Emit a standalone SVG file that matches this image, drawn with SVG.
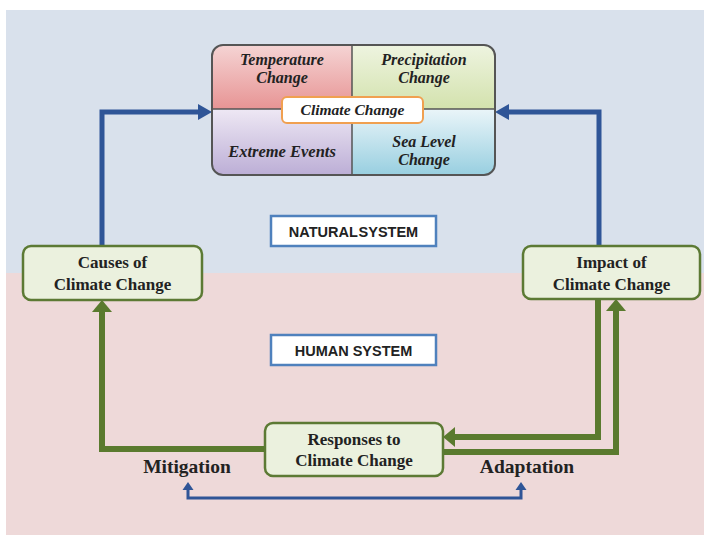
<svg xmlns="http://www.w3.org/2000/svg" width="704" height="535" viewBox="0 0 704 535">
<style>
.serif{font-family:"Liberation Serif","Times New Roman",serif;font-weight:bold;fill:#222;text-anchor:middle}
.it{font-style:italic}
.sans{font-family:"Liberation Sans",Arial,sans-serif;font-weight:bold;fill:#222;text-anchor:middle;font-size:14.5px}
.gbox{fill:#ebf1de;stroke:#5c7a34;stroke-width:2.5}
.sbox{fill:#fff;stroke:#4f81bd;stroke-width:2.5}
.garrow{fill:none;stroke:#5a7a2e;stroke-width:6;stroke-linejoin:miter}
.barrow{fill:none;stroke:#2f5597;stroke-width:5;stroke-linejoin:miter}
.bthin{fill:none;stroke:#2f5597;stroke-width:3;stroke-linejoin:miter}
</style>
<defs>
<marker id="gHead" markerUnits="userSpaceOnUse" markerWidth="14" markerHeight="22" refX="0" refY="10" orient="auto" overflow="visible"><path d="M0,0 L12,10 L0,20 Z" fill="#5a7a2e"/></marker>
<marker id="bHead" markerUnits="userSpaceOnUse" markerWidth="16" markerHeight="18" refX="0" refY="8" orient="auto" overflow="visible"><path d="M0,0 L14,8 L0,16 Z" fill="#2f5597"/></marker>
<marker id="sHead" markerUnits="userSpaceOnUse" markerWidth="10" markerHeight="12" refX="0" refY="5.5" orient="auto-start-reverse" overflow="visible"><path d="M0,0 L8,5.5 L0,11 Z" fill="#2f5597"/></marker>
<linearGradient id="gRed" x1="0" y1="0" x2="0" y2="1"><stop offset="0" stop-color="#f5d4d4"/><stop offset="1" stop-color="#e79494"/></linearGradient>
<linearGradient id="gGreen" x1="0" y1="0" x2="0" y2="1"><stop offset="0" stop-color="#eef4e0"/><stop offset="1" stop-color="#d3e2ad"/></linearGradient>
<linearGradient id="gPurple" x1="0" y1="0" x2="0" y2="1"><stop offset="0" stop-color="#eee8f4"/><stop offset="1" stop-color="#bcaed6"/></linearGradient>
<linearGradient id="gCyan" x1="0" y1="0" x2="0" y2="1"><stop offset="0" stop-color="#eaf5f9"/><stop offset="1" stop-color="#98cfe0"/></linearGradient>
<clipPath id="ccClip"><rect x="212" y="45" width="283" height="130" rx="11"/></clipPath>
</defs>
<rect x="0" y="0" width="704" height="535" fill="#fff"/>
<rect x="6" y="10" width="698" height="263" fill="#d9e1ec"/>
<rect x="6" y="273" width="698" height="262" fill="#eed9d9"/>

<g id="connectors">
<path class="barrow" d="M102,246 V112 H198" marker-end="url(#bHead)"/>
<path class="barrow" d="M599,246 V112 H509" marker-end="url(#bHead)"/>
<path class="garrow" d="M265,449 H102 V312" marker-end="url(#gHead)"/>
<path class="garrow" d="M598,299 V437 H455" marker-end="url(#gHead)"/>
<path class="garrow" d="M443,452 H616 V311" marker-end="url(#gHead)"/>
<path class="bthin" d="M188,490 V498 H521 V490" marker-start="url(#sHead)" marker-end="url(#sHead)"/>
</g>

<g id="climate-change">
<g clip-path="url(#ccClip)">
<rect x="212" y="45" width="140" height="64" fill="url(#gRed)"/>
<rect x="352" y="45" width="143" height="64" fill="url(#gGreen)"/>
<rect x="212" y="109" width="140" height="66" fill="url(#gPurple)"/>
<rect x="352" y="109" width="143" height="66" fill="url(#gCyan)"/>
</g>
<line x1="352" y1="45" x2="352" y2="175" stroke="#555" stroke-width="1.5"/>
<line x1="212" y1="109" x2="495" y2="109" stroke="#555" stroke-width="1.5"/>
<rect x="212" y="45" width="283" height="130" rx="11" fill="none" stroke="#555" stroke-width="2"/>
<text class="serif it" x="282" y="65" font-size="16">Temperature</text>
<text class="serif it" x="282" y="83" font-size="16">Change</text>
<text class="serif it" x="424" y="65" font-size="16">Precipitation</text>
<text class="serif it" x="424" y="83" font-size="16">Change</text>
<text class="serif it" x="282" y="157" font-size="16.5">Extreme Events</text>
<text class="serif it" x="424" y="147" font-size="16">Sea Level</text>
<text class="serif it" x="424" y="165" font-size="16">Change</text>
<rect x="282" y="97" width="141" height="26" rx="5" fill="#fff" stroke="#f0a050" stroke-width="2"/>
<text class="serif it" x="352.5" y="115" font-size="15.5">Climate Change</text>
</g>

<g id="natural-system">
<rect class="sbox" x="271" y="216" width="165" height="30"/>
<text class="sans" x="353.5" y="237" word-spacing="-3">NATURAL SYSTEM</text>
</g>

<g id="human-system">
<rect class="sbox" x="271" y="335" width="165" height="30"/>
<text class="sans" x="353.5" y="356">HUMAN SYSTEM</text>
</g>

<g id="causes">
<rect class="gbox" x="23" y="246" width="179" height="54" rx="8"/>
<text class="serif" x="112.5" y="268" font-size="17">Causes of</text>
<text class="serif" x="112.5" y="290" font-size="17">Climate Change</text>
</g>

<g id="impact">
<rect class="gbox" x="523" y="246" width="177" height="53" rx="8"/>
<text class="serif" x="611.5" y="268" font-size="17">Impact of</text>
<text class="serif" x="611.5" y="290" font-size="17">Climate Change</text>
</g>

<g id="responses">
<rect class="gbox" x="265" y="423" width="178" height="53" rx="8"/>
<text class="serif" x="354" y="445" font-size="17">Responses to</text>
<text class="serif" x="354" y="466" font-size="17">Climate Change</text>
</g>

<g id="mitigation">
<text class="serif" x="187" y="473" font-size="19.5">Mitigation</text>
</g>
<g id="adaptation">
<text class="serif" x="527" y="473" font-size="19.5">Adaptation</text>
</g>
</svg>
